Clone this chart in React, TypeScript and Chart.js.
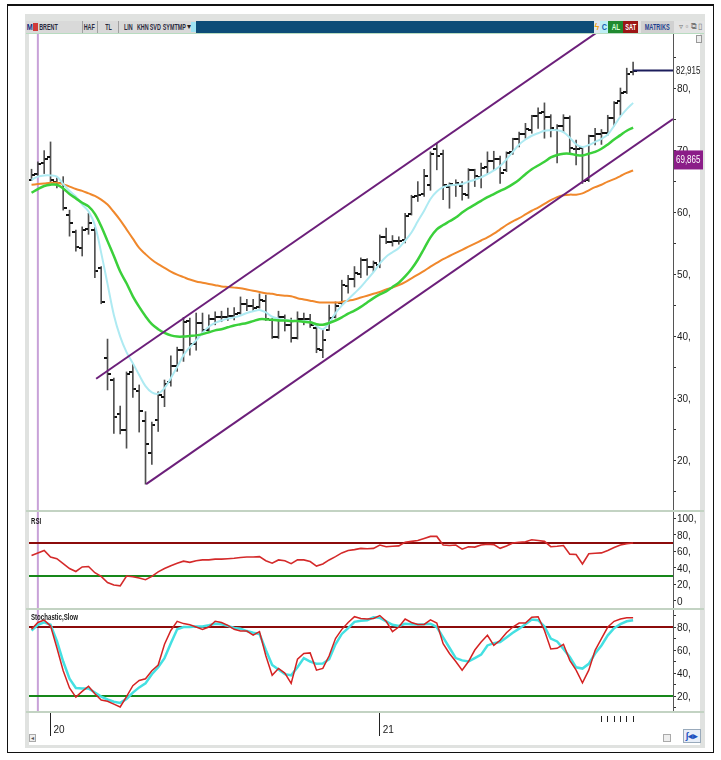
import React, { useEffect, useRef } from 'react';
import { Chart, registerables } from 'chart.js';

Chart.register(...registerables);

// ---------------- data ----------------
const weeks = [
  '2019-12-16', '2019-12-23', '2019-12-30', '2020-01-06', '2020-01-13', '2020-01-20', '2020-01-27', '2020-02-03', '2020-02-10', '2020-02-17',
  '2020-02-24', '2020-03-02', '2020-03-09', '2020-03-16', '2020-03-23', '2020-03-30', '2020-04-06', '2020-04-13', '2020-04-20', '2020-04-27',
  '2020-05-04', '2020-05-11', '2020-05-18', '2020-05-25', '2020-06-01', '2020-06-08', '2020-06-15', '2020-06-22', '2020-06-29', '2020-07-06',
  '2020-07-13', '2020-07-20', '2020-07-27', '2020-08-03', '2020-08-10', '2020-08-17', '2020-08-24', '2020-08-31', '2020-09-07', '2020-09-14',
  '2020-09-21', '2020-09-28', '2020-10-05', '2020-10-12', '2020-10-19', '2020-10-26', '2020-11-02', '2020-11-09', '2020-11-16', '2020-11-23',
  '2020-11-30', '2020-12-07', '2020-12-14', '2020-12-21', '2020-12-28', '2021-01-04', '2021-01-11', '2021-01-18', '2021-01-25', '2021-02-01',
  '2021-02-08', '2021-02-15', '2021-02-22', '2021-03-01', '2021-03-08', '2021-03-15', '2021-03-22', '2021-03-29', '2021-04-05', '2021-04-12',
  '2021-04-19', '2021-04-26', '2021-05-03', '2021-05-10', '2021-05-17', '2021-05-24', '2021-05-31', '2021-06-07', '2021-06-14', '2021-06-21',
  '2021-06-28', '2021-07-05', '2021-07-12', '2021-07-19', '2021-07-26', '2021-08-02', '2021-08-09', '2021-08-16', '2021-08-23', '2021-08-30',
  '2021-09-06', '2021-09-13', '2021-09-20', '2021-09-27', '2021-10-04', '2021-10-11',
];

const opens = [
  65.3, 66.2, 68.0, 69.0, 65.0, 64.8, 59.6, 56.8, 54.3, 57.3,
  57.2, 51.0, 36.5, 33.0, 27.5, 25.0, 34.3, 31.2, 26.4, 21.2,
  26.5, 30.2, 32.6, 35.3, 37.9, 42.5, 38.8, 42.2, 41.1, 42.9,
  43.2, 43.2, 43.4, 43.8, 45.2, 45.0, 44.8, 45.8, 42.7, 40.0,
  43.1, 41.9, 39.8, 42.8, 42.9, 41.4, 37.8, 41.1, 43.2, 45.4,
  48.2, 49.3, 50.1, 52.3, 51.3, 51.6, 56.0, 55.2, 55.4, 55.6,
  59.7, 62.6, 63.0, 64.5, 70.3, 69.4, 64.2, 64.5, 64.3, 62.8,
  66.8, 65.8, 67.4, 68.3, 68.7, 66.8, 69.7, 71.8, 72.7, 73.4,
  75.6, 76.3, 75.4, 73.4, 74.0, 75.3, 70.3, 70.4, 65.2, 72.4,
  72.6, 72.8, 75.3, 78.0, 79.5, 82.6,
];
const highs = [
  67.0, 68.2, 70.0, 71.4, 65.6, 65.8, 60.4, 57.2, 57.7, 59.9,
  57.6, 51.3, 39.6, 33.3, 28.8, 34.3, 35.7, 32.2, 27.9, 26.2,
  31.1, 33.0, 36.9, 38.3, 43.1, 43.0, 43.8, 43.8, 43.5, 44.0,
  44.1, 44.6, 44.7, 46.4, 46.0, 46.0, 46.9, 46.7, 42.9, 44.1,
  43.5, 43.0, 44.0, 43.8, 43.6, 41.9, 41.1, 45.1, 45.6, 49.1,
  49.9, 51.3, 52.7, 52.6, 52.2, 56.4, 57.5, 56.3, 56.1, 59.9,
  62.8, 65.0, 67.0, 69.8, 71.2, 70.1, 64.8, 65.3, 65.0, 67.1,
  67.0, 68.0, 69.8, 69.9, 69.1, 69.8, 72.0, 73.0, 74.4, 75.7,
  76.9, 77.7, 75.8, 74.2, 75.8, 75.6, 71.7, 70.6, 72.5, 73.6,
  73.4, 75.7, 77.9, 80.1, 83.3, 84.3,
];
const lows = [
  65.2, 66.0, 66.3, 65.0, 64.0, 60.4, 56.2, 53.8, 53.0, 56.5,
  49.5, 45.3, 31.4, 24.4, 24.3, 22.0, 30.2, 24.6, 16.2, 19.4,
  24.7, 28.7, 32.0, 34.4, 36.0, 37.0, 37.8, 40.3, 40.7, 41.9,
  42.4, 42.6, 42.7, 43.6, 44.2, 44.2, 44.6, 42.6, 39.7, 39.7,
  40.9, 39.1, 39.6, 41.9, 41.5, 37.4, 36.6, 41.0, 43.0, 45.2,
  47.0, 48.0, 49.5, 49.9, 50.5, 51.1, 55.0, 54.6, 54.9, 55.1,
  59.6, 61.8, 62.6, 63.6, 66.9, 62.1, 60.7, 62.6, 62.0, 62.3,
  64.2, 64.0, 66.3, 66.8, 64.7, 66.6, 69.4, 70.6, 72.0, 72.8,
  73.6, 72.0, 72.2, 68.0, 73.0, 69.6, 67.7, 64.7, 65.0, 70.9,
  71.0, 72.5, 74.0, 75.7, 79.2, 82.2,
];
const closes = [
  66.1, 67.9, 68.6, 65.3, 64.8, 60.8, 58.3, 54.5, 57.2, 58.4,
  50.6, 45.6, 33.9, 27.0, 25.0, 34.0, 31.5, 28.0, 22.6, 25.8,
  30.6, 32.4, 35.3, 37.8, 42.3, 38.8, 42.2, 41.1, 42.8, 43.2,
  43.1, 43.4, 43.6, 45.3, 45.0, 44.6, 45.9, 42.8, 40.0, 43.2,
  41.9, 39.7, 42.8, 42.9, 41.8, 38.0, 39.5, 43.0, 45.0, 48.3,
  49.3, 50.2, 52.3, 51.3, 51.8, 56.0, 55.3, 55.4, 55.5, 59.5,
  62.5, 62.9, 65.9, 69.4, 69.2, 64.5, 64.6, 64.7, 63.0, 66.8,
  65.9, 67.2, 68.3, 68.7, 66.4, 69.6, 71.9, 72.7, 73.5, 75.6,
  76.1, 75.5, 73.6, 73.9, 75.2, 70.4, 70.3, 65.1, 72.3, 72.6,
  72.9, 75.3, 77.6, 79.3, 82.4, 82.915,
];

const maFast = [
  65.3, 65.8, 66.0, 66.0, 65.8, 64.6, 63.5, 62.6, 61.3, 60.2,
  58.0, 53.5, 48.5, 43.5, 40.0, 37.5, 35.7, 33.8, 32.0, 31.0,
  30.8, 31.7, 33.3, 35.1, 37.0, 38.3, 39.4, 40.6, 41.6, 42.2,
  42.6, 42.9, 43.1, 43.4, 43.8, 44.1, 44.3, 43.9, 43.2, 42.9,
  42.7, 42.6, 42.5, 42.5, 42.4, 41.7, 41.2, 42.2, 43.8, 45.0,
  46.0, 47.0, 48.0, 49.2, 50.4, 51.8, 52.9, 53.6, 54.3, 55.5,
  56.8, 58.6, 60.3, 62.2, 63.4, 64.1, 64.4, 64.5, 64.6, 65.0,
  65.3, 65.7, 66.2, 66.8, 67.5, 68.6, 69.8, 71.0, 71.8, 72.4,
  72.8, 73.2, 73.3, 73.3, 73.0, 72.1, 71.0, 70.6, 70.9, 71.4,
  71.9, 72.6, 74.0, 75.5, 76.7, 77.7,
];
const maMid = [
  63.2, 63.8, 64.3, 64.5, 64.5, 63.9, 63.0, 62.3, 61.6, 61.0,
  59.8, 57.8, 55.4, 53.0, 50.5, 48.6, 46.5, 44.8, 43.3, 42.0,
  41.2, 40.6, 40.2, 40.0, 40.0, 40.1, 40.2, 40.4, 40.7, 41.0,
  41.2, 41.5, 41.8, 42.0, 42.2, 42.5, 42.8, 42.8, 42.7, 42.6,
  42.6, 42.5, 42.5, 42.4, 42.3, 42.0, 41.9, 42.2, 42.6, 43.1,
  43.7, 44.2, 44.8, 45.5, 46.2, 46.8, 47.3, 48.0, 48.7, 49.7,
  50.9, 52.4, 54.2, 56.0, 57.3, 58.0, 58.6, 59.2, 60.0, 60.7,
  61.3, 61.9, 62.5, 63.0, 63.5, 64.0, 64.6, 65.3, 66.2, 67.0,
  67.6, 68.2, 68.9, 69.3, 69.5, 69.5, 69.3, 69.2, 69.5, 69.8,
  70.3, 71.0, 71.8, 72.5, 73.2, 73.7,
];
const maSlow = [
  64.5, 64.6, 64.7, 64.8, 64.8, 64.6, 64.2, 63.8, 63.5, 63.1,
  62.7, 62.1, 61.3, 60.1, 58.8, 57.3, 55.8, 54.3, 53.3, 52.4,
  51.7, 51.1, 50.5, 50.0, 49.6, 49.2, 48.9, 48.7, 48.5, 48.3,
  48.1, 48.0, 47.9, 47.8, 47.6, 47.4, 47.2, 47.0, 46.9, 46.7,
  46.6, 46.5, 46.2, 46.0, 45.8, 45.6, 45.5, 45.5, 45.5, 45.6,
  45.8, 46.0, 46.3, 46.6, 46.9, 47.2, 47.6, 47.9, 48.3, 48.8,
  49.4, 50.0, 50.6, 51.3, 51.9, 52.5, 53.0, 53.5, 54.0, 54.5,
  55.0, 55.5, 56.0, 56.6, 57.3, 58.0, 58.6, 59.1, 59.7, 60.3,
  60.8, 61.4, 62.0, 62.5, 62.8, 62.9, 62.9, 63.1, 63.6, 64.1,
  64.5, 65.0, 65.4, 65.9, 66.4, 66.8,
];

const rsiValues = [
  55, 58, 61, 53, 51, 45, 39, 35.5, 41, 41.5,
  34, 29.5, 22, 19, 18, 30, 29, 27.5, 25.5, 29.5,
  35, 39, 42.5, 45.5, 48, 46.5, 48.5, 49.5, 49.5, 50.5,
  50.5, 51, 51.5, 52.5, 53, 53, 53.5, 48.5, 45.5, 49.5,
  48.5, 45, 49.5, 49.5, 47.5, 42, 44.5, 49.5, 53.5, 58,
  61, 62, 63.5, 63, 63.5, 67.5, 65.5, 66, 66.5, 71,
  72, 73, 75.5, 78, 78, 67.5, 67, 67.5, 62.5, 65.5,
  65, 67.5, 68.5, 68, 63.5, 66.5, 70, 71, 71.5, 74,
  73, 72, 65.5, 66, 67, 56.5, 56, 44.5, 57, 57.5,
  58, 61, 64.5, 67.5, 69, 70,
];
const stochK = [
  78, 84, 86, 81, 62, 42, 27, 19, 24, 28.5,
  22, 16.5, 15.5, 13, 10.5, 19.5, 29, 33.5, 35, 42,
  47, 65, 77, 85, 83, 82, 80, 78, 80, 85,
  84, 81.5, 78, 76.5, 76.5, 73, 76, 55, 38, 44,
  40, 31, 52, 57, 57.5, 42.5, 44, 55, 70, 78,
  84, 89, 87.5, 87, 87.5, 90, 85, 76, 80, 87,
  84, 82.3, 82.3, 86.3, 83.5, 65.6, 57, 50, 42.5, 50,
  60, 67, 72.8, 64, 68.5, 75, 80, 83.5, 83.5, 88.6,
  89, 77, 61, 61.5, 65, 51, 42.5, 31.5, 42.5, 59.8,
  70, 80, 85, 87, 88, 88,
];
const stochD = [
  77, 82, 84, 82, 68, 50, 35, 27, 26.6, 26.6,
  23, 19.5, 17, 15, 14, 17.5, 23, 27.5, 31, 39,
  45, 53, 66, 78, 80, 80, 80.5, 80.5, 81.5, 82.9,
  82.5, 81, 79.2, 78.6, 76.5, 75, 74, 60, 47, 43,
  39, 38, 45, 53, 50, 48, 48.3, 52, 65, 74,
  79, 84.5, 85.5, 86, 88.5, 88, 85, 82, 81, 82.8,
  82.5, 82.3, 82.5, 82.9, 80, 71, 62, 53, 51, 50,
  53, 56, 64, 66, 67, 71, 75, 78.6, 82.5, 86.5,
  86, 80.5, 70, 67.5, 61, 54, 45, 43.9, 48, 57,
  64, 72.8, 79, 82.5, 85, 86,
];

const rsiLevels = [70, 30];
const stochLevels = [80, 20];
const upperChannel = [{ x: 10.2, y: 33.2 }, { x: 95, y: 93.1 }];
const lowerChannel = [{ x: 18.1, y: 16.2 }, { x: 101.3, y: 75.1 }];
const markerWeeks = ['2021-09-06', '2021-09-13', '2021-09-20', '2021-09-27', '2021-10-04', '2021-10-11'];
const cursorWeek = '2019-12-23';
const cursorPrice = 69.865;
const lastPrice = 82.915;

const xRange = { min: -0.4, max: 101.3 };
const priceRange = { min: 11.87, max: 88.81 };
const rsiRange = { min: -10, max: 108.8 };
const stochRange = { min: 6.1, max: 95.7 };

// ---------------- helpers ----------------
const FONT = "'Liberation Sans', Arial, sans-serif";
const trNum = (v: number) => v.toFixed(3).replace('.', ',');
const pts = (arr: number[]) => arr.map((v, i) => ({ x: i, y: v }));
const yearTicks = weeks
  .map((w, i) => ({ i, yr: w.slice(0, 4) }))
  .filter((d, k, arr) => k > 0 && d.yr !== arr[k - 1].yr);
const yearLabel = new Map<number, string>(yearTicks.map((d) => [d.i, d.yr.slice(2)]));
const markerIdx = markerWeeks.map((w) => weeks.indexOf(w));
const xTickValues = [...yearTicks.map((d) => d.i), ...markerIdx];

function condensedText(ctx: CanvasRenderingContext2D, text: string, x: number, y: number, sx: number) {
  ctx.save();
  ctx.translate(x, y);
  ctx.scale(sx, 1);
  ctx.fillText(text, 0, 0);
  ctx.restore();
}

export default function App() {
  const ref = useRef<HTMLCanvasElement | null>(null);

  useEffect(() => {
    const canvas = ref.current;
    if (!canvas) return;
    Chart.defaults.font.family = FONT;

    const mkTick = (side: 'left' | 'right') => {
      const c = document.createElement('canvas');
      c.width = 7;
      c.height = 2;
      const g = c.getContext('2d')!;
      g.fillStyle = '#111';
      g.fillRect(side === 'left' ? 0 : 4, 0, 3, 2);
      return c;
    };
    const openTick = mkTick('left');
    const closeTick = mkTick('right');
    const lastIdx = closes.length - 1;
    const cursorIdx = weeks.indexOf(cursorWeek);

    const hline = (v: number) => [{ x: xRange.min, y: v }, { x: xRange.max, y: v }];
    const lineBase = { type: 'line' as const, pointRadius: 0, pointHoverRadius: 0, fill: false };

    const overlay = {
      id: 'overlay',
      beforeDatasetsDraw(chart: any) {
        const { ctx, scales } = chart;
        const cx = scales.x.getPixelForValue(cursorIdx);
        ctx.save();
        ctx.strokeStyle = '#c8a2d8';
        ctx.lineWidth = 2;
        ctx.beginPath();
        ctx.moveTo(cx, scales.y.top);
        ctx.lineTo(cx, scales.yStoch.bottom);
        ctx.stroke();
        ctx.restore();
      },
      afterDraw(chart: any) {
        const { ctx, scales } = chart;
        const yM = scales.y, yR = scales.yRsi, yS = scales.yStoch, x = scales.x;
        ctx.save();
        ctx.fillStyle = '#c3d3c3';
        [yM.bottom, yR.bottom, yS.bottom].forEach((yy: number) => ctx.fillRect(26, yy - 1, 678, 2));
        ctx.textAlign = 'left';
        ctx.textBaseline = 'middle';
        ctx.fillStyle = '#1a1a1a';
        ctx.font = `bold 9px ${FONT}`;
        condensedText(ctx, 'RSI', x.left + 2, yR.top + 11, 0.68);
        condensedText(ctx, 'Stochastic,Slow', x.left + 2, yS.top + 9, 0.68);
        ctx.font = `10px ${FONT}`;
        condensedText(ctx, trNum(lastPrice), yM.left + 3, yM.getPixelForValue(lastPrice) + 1, 0.8);
        const cy = yM.getPixelForValue(cursorPrice);
        ctx.fillStyle = '#8b1d88';
        ctx.fillRect(yM.left + 1, cy - 1, 29, 19);
        ctx.fillStyle = '#ffffff';
        condensedText(ctx, trNum(cursorPrice), yM.left + 3, cy + 8.5, 0.8);
        ctx.restore();
      },
    };

    const axisFont = { family: FONT, size: 10 };
    const yCommon = () => ({
      type: 'linear' as const,
      position: 'right' as const,
      stack: 'panels',
      afterFit: (s: any) => { s.width = 30; },
      border: { display: true, color: '#555', width: 1 },
      grid: { drawOnChartArea: false, drawTicks: true, tickLength: 3, tickColor: '#333', tickWidth: 1 },
    });

    const chart = new Chart(canvas, {
      type: 'line',
      data: {
        datasets: [
          { ...lineBase, data: upperChannel, yAxisID: 'y', borderColor: '#6c1f7a', borderWidth: 2, order: 1 },
          { ...lineBase, data: lowerChannel, yAxisID: 'y', borderColor: '#6c1f7a', borderWidth: 2, order: 1 },
          { ...lineBase, data: [{ x: lastIdx, y: lastPrice }, { x: xRange.max, y: lastPrice }], yAxisID: 'y', borderColor: '#1c1d5c', borderWidth: 2, order: 1 },
          { ...lineBase, data: pts(maMid), yAxisID: 'y', borderColor: '#3bd03b', borderWidth: 2.5, tension: 0.35, order: 2 },
          { ...lineBase, data: pts(maFast), yAxisID: 'y', borderColor: '#aeeaf2', borderWidth: 2, tension: 0.35, order: 3 },
          { ...lineBase, data: pts(maSlow), yAxisID: 'y', borderColor: '#f0882c', borderWidth: 2, tension: 0.35, order: 4 },
          { type: 'line', data: pts(opens), yAxisID: 'y', showLine: false, pointStyle: openTick, pointRadius: 3, pointHoverRadius: 0, order: 5 },
          { type: 'line', data: pts(closes), yAxisID: 'y', showLine: false, pointStyle: closeTick, pointRadius: 3, pointHoverRadius: 0, order: 5 },
          {
            type: 'bar',
            data: lows.map((l, i) => ({ x: i, y: [l, highs[i]] })),
            yAxisID: 'y',
            backgroundColor: '#505050',
            borderWidth: 0,
            barThickness: 1,
            grouped: false,
            order: 6,
          },
          // RSI panel
          { ...lineBase, data: pts(rsiValues), yAxisID: 'yRsi', borderColor: '#d42a2a', borderWidth: 1.6, order: 7 },
          { ...lineBase, data: hline(rsiLevels[0]), yAxisID: 'yRsi', borderColor: '#8c0b0b', borderWidth: 2, order: 8 },
          { ...lineBase, data: hline(rsiLevels[1]), yAxisID: 'yRsi', borderColor: '#17871a', borderWidth: 2, order: 8 },
          // Stochastic panel
          { ...lineBase, data: pts(stochK), yAxisID: 'yStoch', borderColor: '#d42222', borderWidth: 1.5, order: 9 },
          { ...lineBase, data: pts(stochD), yAxisID: 'yStoch', borderColor: '#44e0e2', borderWidth: 2.5, order: 10 },
          { ...lineBase, data: hline(stochLevels[0]), yAxisID: 'yStoch', borderColor: '#8c0b0b', borderWidth: 2, order: 11 },
          { ...lineBase, data: hline(stochLevels[1]), yAxisID: 'yStoch', borderColor: '#17871a', borderWidth: 2, order: 11 },
        ] as any,
      },
      options: {
        responsive: false,
        animation: false,
        events: [],
        layout: { padding: { left: 29, right: 18, top: 34, bottom: 14 } },
        plugins: { legend: { display: false }, tooltip: { enabled: false }, title: { display: false } },
        scales: {
          x: {
            type: 'linear',
            position: 'bottom',
            min: xRange.min,
            max: xRange.max,
            offset: false,
            afterBuildTicks: (s: any) => { s.ticks = xTickValues.map((v) => ({ value: v })); },
            afterFit: (s: any) => { s.height = 34; },
            border: { display: false },
            grid: {
              offset: false,
              drawOnChartArea: false,
              drawTicks: true,
              tickLength: 24,
              tickColor: '#222',
              tickWidth: 1,
              tickBorderDash: (c: any) => (yearLabel.has(c.tick?.value) ? [] : [0, 4, 6, 100]),
            },
            ticks: {
              autoSkip: false,
              maxRotation: 0,
              minRotation: 0,
              align: 'start',
              labelOffset: 3,
              padding: -12,
              color: '#1a1a1a',
              font: axisFont,
              callback: (v: any) => yearLabel.get(v) ?? '',
            },
          },
          y: {
            ...yCommon(),
            stackWeight: 477,
            min: priceRange.min,
            max: priceRange.max,
            ticks: {
              stepSize: 5,
              includeBounds: false,
              autoSkip: false,
              padding: 1,
              labelOffset: 1,
              color: '#1a1a1a',
              font: axisFont,
              callback: (v: any) => (Math.round(v) % 10 === 0 ? `${Math.round(v)},` : ''),
            },
          },
          yRsi: {
            ...yCommon(),
            stackWeight: 98,
            min: rsiRange.min,
            max: rsiRange.max,
            ticks: {
              stepSize: 20,
              includeBounds: false,
              autoSkip: false,
              padding: 1,
              labelOffset: 1,
              color: '#1a1a1a',
              font: axisFont,
              callback: (v: any) => (Math.round(v) === 0 ? '0' : `${Math.round(v)},`),
            },
          },
          yStoch: {
            ...yCommon(),
            stackWeight: 103,
            min: stochRange.min,
            max: stochRange.max,
            ticks: {
              stepSize: 10,
              includeBounds: false,
              autoSkip: false,
              padding: 1,
              labelOffset: 1,
              color: '#1a1a1a',
              font: axisFont,
              callback: (v: any) => (Math.round(v) % 20 === 0 ? `${Math.round(v)},` : ''),
            },
          },
        } as any,
      },
      plugins: [overlay],
    });
    return () => chart.destroy();
  }, []);

  const abs = (s: React.CSSProperties, text?: React.ReactNode, key?: string) => (
    <div key={key} style={{ position: 'absolute', boxSizing: 'border-box', ...s }}>{text}</div>
  );
  // condensed toolbar label centred in a box
  const tb = (left: number, width: number, text: string, color: string, bg?: string, bold = true, sx = 0.6, size = 9) => (
    <div
      key={`tb-${left}`}
      style={{ position: 'absolute', left, top: 21, width, height: 12, background: bg, display: 'flex', alignItems: 'center', justifyContent: 'center', overflow: 'visible' }}
    >
      <span style={{ display: 'inline-block', fontSize: size, lineHeight: 1, color, fontWeight: bold ? 700 : 400, transform: `scaleX(${sx})`, whiteSpace: 'nowrap' }}>{text}</span>
    </div>
  );

  return (
    <div style={{ position: 'absolute', left: 0, top: 0, width: 721, height: 760, background: '#fff', overflow: 'hidden', fontFamily: FONT }}>
      {abs({ left: 25, top: 14, width: 680, height: 734, background: '#e0e2e0' })}
      {abs({ left: 29, top: 33, width: 671, height: 712, background: '#fff' })}
      <canvas ref={ref} width={721} height={760} style={{ position: 'absolute', left: 0, top: 0 }} />
      {/* toolbar */}
      {abs({ left: 26, top: 21, width: 678, height: 12, background: '#0d4c78' })}
      {abs({ left: 26, top: 21, width: 170, height: 12, background: '#d9d9d9' })}
      {tb(27, 6, 'M', '#1a2a7e', undefined, true, 0.8)}
      {abs({ left: 33, top: 23, width: 5, height: 8, background: '#d23a3a' })}
      {tb(39, 18, 'BRENT', '#2a2a40')}
      {abs({ left: 82, top: 21, width: 1, height: 12, background: '#a0a0a0' })}
      {tb(84, 11, 'HAF', '#2a2a40')}
      {abs({ left: 97, top: 21, width: 1, height: 12, background: '#a0a0a0' })}
      {tb(104, 8, 'TL', '#2a2a40')}
      {abs({ left: 118, top: 21, width: 1, height: 12, background: '#a0a0a0' })}
      {tb(124, 9, 'LIN', '#2a2a40')}
      {tb(137, 11, 'KHN', '#2a2a40')}
      {tb(150, 10, 'SVD', '#2a2a40')}
      {tb(162, 24, 'SYMTMP', '#2a2a40')}
      {tb(186, 5, '▾', '#222', undefined, false, 1, 8)}
      {abs({ left: 191, top: 22, width: 5, height: 10, background: '#9fe3f3' })}
      {tb(594, 6, 'ϟ', '#f0a010', '#dfe8ef', true, 1, 9)}
      {tb(600, 8, 'C', '#1060b0', '#bdeef5', true, 0.8)}
      {tb(608, 15, 'AL', '#d8ffd8', '#208a30', true, 0.7)}
      {tb(623, 15, 'SAT', '#ffffff', '#9c1515', true, 0.62)}
      {abs({ left: 638, top: 21, width: 66, height: 12, background: '#e3e3e3' })}
      {tb(641, 33, 'MATRIKS', '#1f3f8f', '#d0d0d0', true, 0.62)}
      {tb(677, 7, '▿', '#777', undefined, false, 1, 8)}
      {tb(684, 6, '▫', '#777', undefined, false, 1, 8)}
      {tb(690, 7, '⧉', '#777', undefined, false, 1, 8)}
      {tb(697, 6, '▯', '#777', undefined, false, 1, 8)}
      {abs({ left: 26, top: 33, width: 678, height: 1, background: '#b8dcc0' })}
      {abs({ left: 696, top: 35, width: 6, height: 8, border: '1px solid #999', background: '#eee' })}
      {/* bottom controls */}
      {abs({ left: 29, top: 734, width: 7, height: 8, border: '1px solid #aaa', background: '#eee', fontSize: 6, lineHeight: '6px', color: '#555', textAlign: 'center' }, '◂')}
      {abs({ left: 663, top: 734, width: 8, height: 8, border: '1px solid #aaa', background: '#eee' })}
      {abs({ left: 683, top: 729, width: 18, height: 14, border: '1px solid #9ab', background: '#e8eef8', fontSize: 9, lineHeight: '12px', color: '#2050c0', textAlign: 'center', fontWeight: 700 }, 'ʃ◂▸')}
      {/* outer frame */}
      {abs({ left: 7, top: 4, width: 707, height: 749, borderStyle: 'solid', borderColor: '#111', borderWidth: '2px 1px 1px 1px' })}
    </div>
  );
}
